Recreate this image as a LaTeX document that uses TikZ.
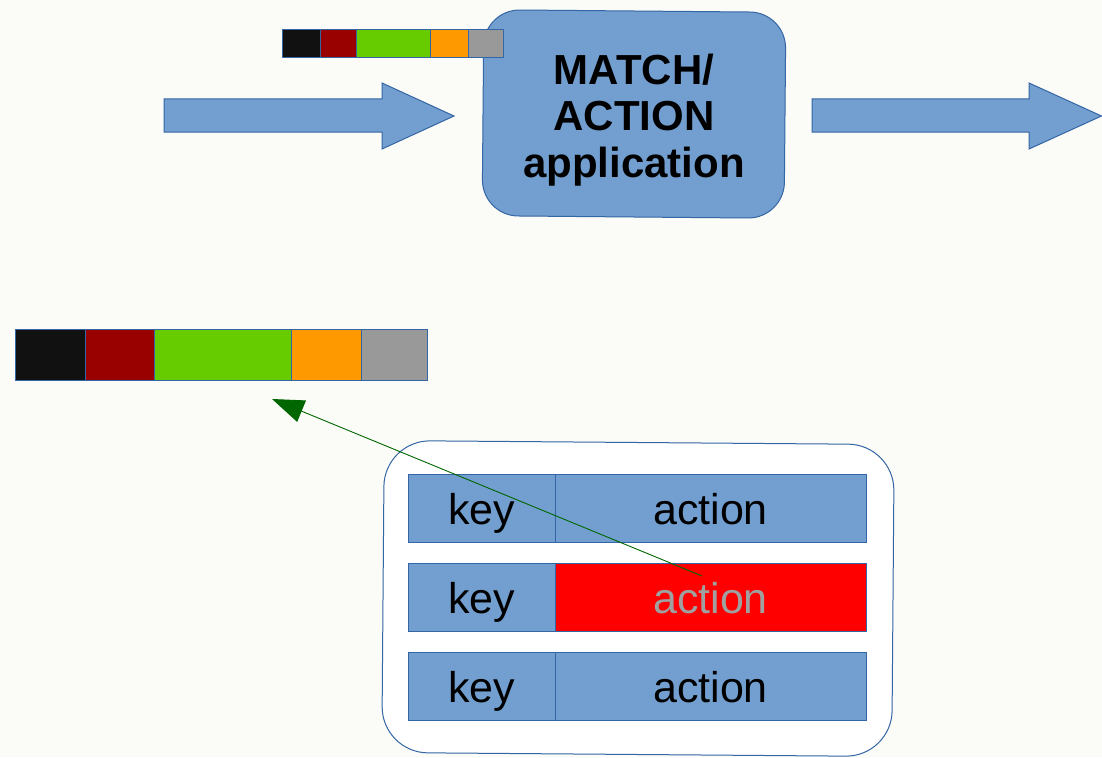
\documentclass[tikz,border=0pt]{standalone}
\usepackage{fontspec}
\setmainfont{Liberation Sans}
\usetikzlibrary{arrows.meta,calc}
\definecolor{bg}{RGB}{251,252,247}
\definecolor{fillblue}{RGB}{114,159,207}
\definecolor{edge}{RGB}{52,101,164}
\definecolor{fblack}{RGB}{17,17,17}
\definecolor{fmaroon}{RGB}{153,0,0}
\definecolor{fgreen}{RGB}{102,204,0}
\definecolor{forange}{RGB}{255,153,0}
\definecolor{fgray}{RGB}{153,153,153}
\definecolor{pointer}{RGB}{0,102,0}
\definecolor{dimtext}{RGB}{160,160,160}

\begin{document}
\begin{tikzpicture}[x=1pt,y=-1pt,
  flow/.style={fill=fillblue, draw=edge, line width=1pt, line join=miter},
  field/.style={draw=edge, line width=0.8pt, inner sep=0pt, outer sep=0pt, anchor=north west},
  cell/.style={draw=edge, fill=fillblue, line width=1pt, inner sep=0pt, outer sep=0pt,
    anchor=north west, minimum height=68pt, text height=40pt, text depth=8pt,
    font=\fontsize{43}{43}\selectfont},
]
\fill[bg] (0,0) rectangle (1102,757);
\useasboundingbox (0,0) rectangle (1102,757);

% incoming and outgoing flow arrows
\draw[flow] (164,99) -- (382,99) -- (382,83) -- (454,116) -- (382,149) -- (382,132) -- (164,132) -- cycle;
\draw[flow] (812,99) -- (1029,99) -- (1029,83) -- (1101.5,116) -- (1029,149) -- (1029,132) -- (812,132) -- cycle;

% match/action stage
\node[draw=edge, fill=fillblue, line width=1pt, rounded corners=36pt,
      minimum width=302pt, minimum height=206pt, rotate=-0.5] (ma) at (634,114) {};
\node[font=\bfseries\fontsize{42}{46.5}\selectfont, align=center] (matext) at (634,120)
  {MATCH/\\ACTION\\application};

% small packet header
\node[field, fill=fblack,  minimum width=38pt,   minimum height=28pt] (s1) at (282,29) {};
\node[field, fill=fmaroon, minimum width=36.5pt, minimum height=28pt] (s2) at (s1.north east) {};
\node[field, fill=fgreen,  minimum width=74pt,   minimum height=28pt] (s3) at (s2.north east) {};
\node[field, fill=forange, minimum width=37.5pt, minimum height=28pt] (s4) at (s3.north east) {};
\node[field, fill=fgray,   minimum width=35pt,   minimum height=28pt] (s5) at (s4.north east) {};

% large packet header
\node[field, fill=fblack,  minimum width=70pt,   minimum height=51pt] (b1) at (15.5,329.5) {};
\node[field, fill=fmaroon, minimum width=69pt,   minimum height=51pt] (b2) at (b1.north east) {};
\node[field, fill=fgreen,  minimum width=137pt,  minimum height=51pt] (b3) at (b2.north east) {};
\node[field, fill=forange, minimum width=70pt,   minimum height=51pt] (b4) at (b3.north east) {};
\node[field, fill=fgray,   minimum width=65.5pt, minimum height=51pt] (b5) at (b4.north east) {};

% flow table
\node[draw=edge, fill=white, line width=1pt, rounded corners=46pt,
      minimum width=510pt, minimum height=312pt, rotate=-0.45] (tbl) at (638,598.5) {};
\node[cell, minimum width=147pt] (k1) at (408,474) {key};
\node[cell, minimum width=311pt] (a1) at (555,474) {action};
\node[cell, minimum width=147pt] (k2) at (408,563) {key};
\node[cell, minimum width=311pt, fill=red, text=dimtext] (a2) at (555,563) {action};
\node[cell, minimum width=147pt] (k3) at (408,652) {key};
\node[cell, minimum width=311pt] (a3) at (555,652) {action};

% selected action rewrites the header
\coordinate (hit) at ($(a2.center)+(-8.5,-21)$);
\coordinate (target) at (272,399);
\draw[pointer, line width=0.9pt, -{Triangle[length=32pt,width=23pt]}] (hit) -- (target);
\end{tikzpicture}
\end{document}
